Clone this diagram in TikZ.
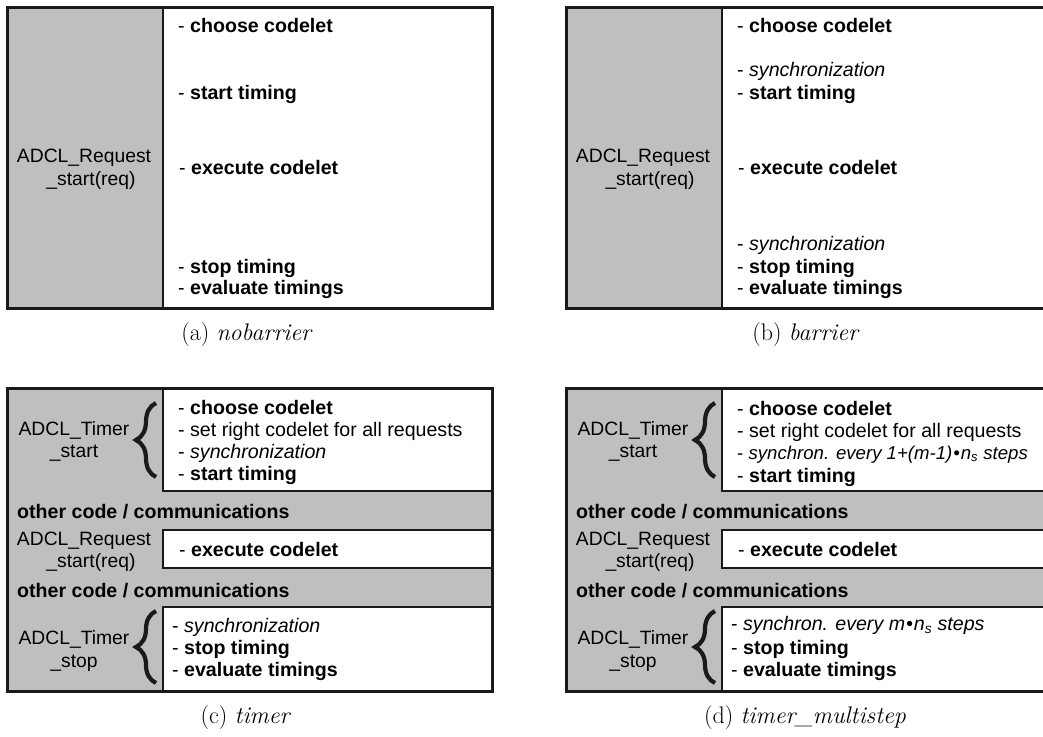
\documentclass[tikz,border=0pt]{standalone}
\usepackage{fontspec}
\newfontfamily\arial{Liberation Sans}
\usetikzlibrary{decorations.pathreplacing}
\definecolor{boxgray}{HTML}{BFBFBF}
\definecolor{ink}{HTML}{1A1A1A}
\tikzset{
  grayfill/.style={fill=boxgray},
  frame/.style={draw=ink, line width=3pt},
  wbox/.style={draw=ink, line width=2.6pt, fill=white},
  divider/.style={draw=ink, line width=2.6pt},
  item/.style={anchor=base west, inner sep=0pt, font=\arial\fontsize{19.6}{22}\selectfont},
  lab/.style={anchor=base, inner sep=0pt, font=\arial\fontsize{19.3}{22}\selectfont},
  captext/.style={anchor=base, inner sep=0pt, font=\fontsize{24}{28}\selectfont},
  brc/.style={draw=ink, line width=4.2pt, decorate, decoration={brace, amplitude=20pt}},
}
\begin{document}
\begin{tikzpicture}[x=1pt,y=-1pt]
\useasboundingbox (0,0) rectangle (1043,736);
\clip (0,0) rectangle (1043,736);

% ---------------- (a) nobarrier ----------------
\path[grayfill] (7,7) rectangle (492,308);
\path[fill=white] (163,7) rectangle (492,308);
\draw[divider] (163,7) -- (163,308);
\draw[frame] (7,7) rectangle (492,308);
\node[lab] (a-l1) at (84,162) {ADCL\_Request};
\node[lab] (a-l2) at (91,185) {\_start(req)};
\node[item] (a-t1) at (178,32) {- \textbf{choose codelet}};
\node[item] (a-t2) at (178,99) {- \textbf{start timing}};
\node[item] (a-t3) at (179,174) {- \textbf{execute codelet}};
\node[item] (a-t4) at (178,273) {- \textbf{stop timing}};
\node[item] (a-t5) at (178,294) {- \textbf{evaluate timings}};
\node[captext] (a-cap) at (247,340) {(a) \textit{nobarrier}};

% ---------------- (b) barrier ----------------
\begin{scope}[xshift=559pt]
\path[grayfill] (7,7) rectangle (492,308);
\path[fill=white] (163,7) rectangle (492,308);
\draw[divider] (163,7) -- (163,308);
\draw[frame] (7,7) rectangle (492,308);
\node[lab] (b-l1) at (84,162) {ADCL\_Request};
\node[lab] (b-l2) at (91,185) {\_start(req)};
\node[item] (b-t1) at (178,32) {- \textbf{choose codelet}};
\node[item] (b-t2) at (178,76) {- \textit{synchronization}};
\node[item] (b-t3) at (178,99) {- \textbf{start timing}};
\node[item] (b-t4) at (179,174) {- \textbf{execute codelet}};
\node[item] (b-t5) at (178,250) {- \textit{synchronization}};
\node[item] (b-t6) at (178,273) {- \textbf{stop timing}};
\node[item] (b-t7) at (178,294) {- \textbf{evaluate timings}};
\node[captext] (b-cap) at (247,340) {(b) \textit{barrier}};
\end{scope}

% ---------------- (c) timer ----------------
\path[grayfill] (7,388) rectangle (492,691);
\draw[wbox] (163,388) rectangle (492,491);
\draw[wbox] (163,530) rectangle (492,568);
\draw[wbox] (163,607) rectangle (492,691);
\draw[frame] (7,388) rectangle (492,691);
\node[lab] (c-l1) at (74,435) {ADCL\_Timer};
\node[lab] (c-l2) at (74,457) {\_start};
\draw[brc] (156,477) -- (156,403);
\node[item] (c-t1) at (178,414) {- \textbf{choose codelet}};
\node[item] (c-t2) at (178,436) {- set right codelet for all requests};
\node[item] (c-t3) at (178,458) {- \textit{synchronization}};
\node[item] (c-t4) at (178,480) {- \textbf{start timing}};
\node[item] (c-o1) at (17,518) {\textbf{other code / communications}};
\node[lab] (c-l3) at (84,545) {ADCL\_Request};
\node[lab] (c-l4) at (91,567) {\_start(req)};
\node[item] (c-t5) at (179,556) {- \textbf{execute codelet}};
\node[item] (c-o2) at (17,597) {\textbf{other code / communications}};
\node[lab] (c-l5) at (74,644) {ADCL\_Timer};
\node[lab] (c-l6) at (74,667) {\_stop};
\draw[brc] (156,683) -- (156,611);
\node[item] (c-t6) at (172,632) {- \textit{synchronization}};
\node[item] (c-t7) at (172,654) {- \textbf{stop timing}};
\node[item] (c-t8) at (172,676) {- \textbf{evaluate timings}};
\node[captext] (c-cap) at (246,723) {(c) \textit{timer}};

% ---------------- (d) timer_multistep ----------------
\begin{scope}[xshift=559pt]
\path[grayfill] (7,388) rectangle (492,691);
\draw[wbox] (163,388) rectangle (492,491);
\draw[wbox] (163,530) rectangle (492,568);
\draw[wbox] (163,607) rectangle (492,691);
\draw[frame] (7,388) rectangle (492,691);
\node[lab] (d-l1) at (74,435) {ADCL\_Timer};
\node[lab] (d-l2) at (74,457) {\_start};
\draw[brc] (156,477) -- (156,403);
\node[item] (d-t1) at (178,415) {- \textbf{choose codelet}};
\node[item] (d-t2) at (178,437) {- set right codelet for all requests};
\node[item, font=\arial\fontsize{18.6}{22}\selectfont] (d-t3) at (178,459) {- \textit{synchron. every 1+(m-1)\kern1pt•\kern1pt n\textsubscript{s} steps}};
\node[item] (d-t4) at (178,482) {- \textbf{start timing}};
\node[item] (d-o1) at (17,518) {\textbf{other code / communications}};
\node[lab] (d-l3) at (84,545) {ADCL\_Request};
\node[lab] (d-l4) at (91,567) {\_start(req)};
\node[item] (d-t5) at (179,556) {- \textbf{execute codelet}};
\node[item] (d-o2) at (17,597) {\textbf{other code / communications}};
\node[lab] (d-l5) at (74,644) {ADCL\_Timer};
\node[lab] (d-l6) at (74,667) {\_stop};
\draw[brc] (156,683) -- (156,611);
\node[item] (d-t6) at (172,630) {- \textit{synchron. every m\kern1pt•\kern1pt n\textsubscript{s} steps}};
\node[item] (d-t7) at (172,654) {- \textbf{stop timing}};
\node[item] (d-t8) at (172,676) {- \textbf{evaluate timings}};
\node[captext] (d-cap) at (246,723) {(d) \textit{timer\_multistep}};
\end{scope}
\end{tikzpicture}
\end{document}
